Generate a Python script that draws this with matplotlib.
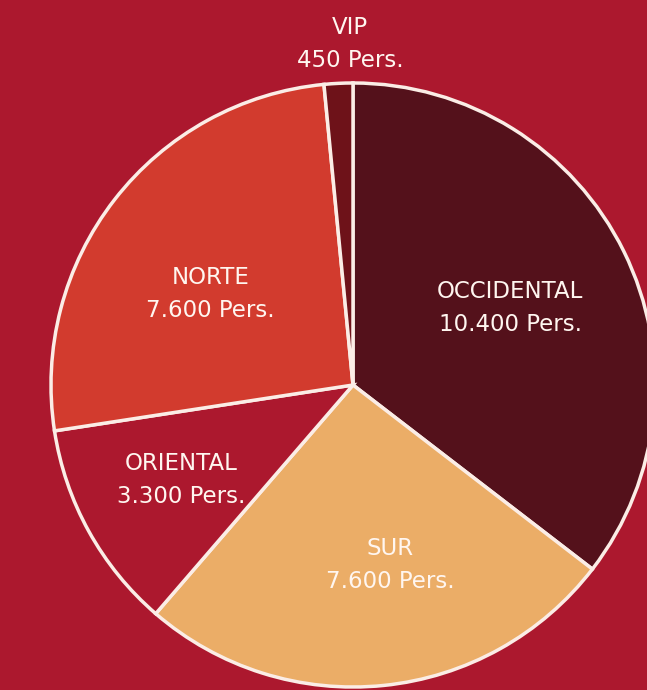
import numpy as np
import matplotlib.pyplot as plt

# Data
zones = ['OCCIDENTAL', 'SUR', 'ORIENTAL', 'NORTE', 'VIP']
people = [10400, 7600, 3300, 7600, 450]
people_txt = ['10.400', '7.600', '3.300', '7.600', '450']
colors = ['#54111B', '#EBAD67', '#AC182E', '#D23B2E', '#6E1219']

bg = '#AC182E'
fig = plt.figure(figsize=(6.47, 6.90), dpi=100, facecolor=bg)
ax = fig.add_axes([0, 0, 1, 1])
ax.set_facecolor(bg)

cx, cy, R = 353, 305, 302
wedges, _ = ax.pie(people, colors=colors, startangle=90, counterclock=False,
                   center=(cx, cy), radius=R, frame=True,
                   wedgeprops=dict(edgecolor='#FBEDE6', linewidth=2.5))
ax.set_xlim(0, 647)
ax.set_ylim(0, 690)
ax.set_aspect('equal')
ax.axis('off')

# label distance (fraction of radius) and angle shift per slice
dist = [0.58, 0.61, 0.65, 0.56, 1.13]
shift = [0, 5.8, 0, 5.4, -2.3]
for w, name, txt, d, s in zip(wedges, zones, people_txt, dist, shift):
    ang = np.deg2rad((w.theta1 + w.theta2) / 2 + s)
    x = cx + d * R * np.cos(ang)
    y = cy + d * R * np.sin(ang)
    ax.text(x, y, f'{name}\n{txt} Pers.', ha='center', va='center',
            color='#FFF6F0', fontsize=16.5, family='DejaVu Sans', linespacing=1.55)

fig.savefig('out.png', dpi=100, facecolor=bg)
